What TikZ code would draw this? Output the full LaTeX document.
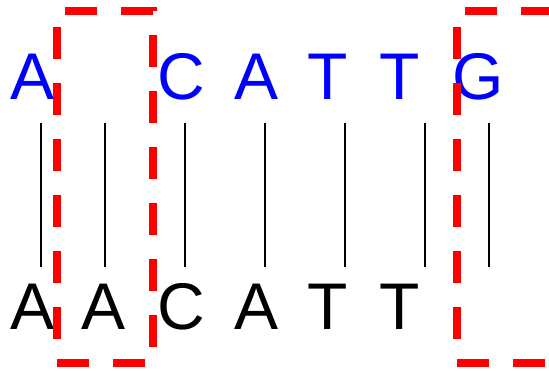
\documentclass[tikz,border=0pt]{standalone}
\usepackage{fontspec}
\setmainfont{Liberation Sans}
\begin{document}
\begin{tikzpicture}[x=1pt,y=1pt,
  base/.style={anchor=base,inner sep=0pt,font=\fontsize{66}{70}\selectfont},
  upper/.style={base,text={rgb,255:red,0;green,0;blue,255}},
  lower/.style={base,text=black},
  tick/.style={draw=black,line width=1.6pt},
  gapbox/.style={draw={rgb,255:red,255;green,0;blue,0},line width=8pt,dash pattern=on 32pt off 24pt}]
\useasboundingbox (0,0) rectangle (549,371);
% upper sequence
\node[upper] (u1) at (33,271) {A};
\node[upper] (u3) at (181,271) {C};
\node[upper] (u4) at (257,271) {A};
\node[upper] (u5) at (328,271) {T};
\node[upper] (u6) at (400,271) {T};
\node[upper] (u7) at (478,271) {G};
% lower sequence
\node[lower] (l1) at (33,41) {A};
\node[lower] (l2) at (104,41) {A};
\node[lower] (l3) at (181,41) {C};
\node[lower] (l4) at (257,41) {A};
\node[lower] (l5) at (328,41) {T};
\node[lower] (l6) at (400,41) {T};
% alignment ticks
\foreach \i/\x in {1/41,2/105,3/185,4/265,5/345,6/425,7/489}{
  \coordinate (t\i) at (\x,248);
  \coordinate (b\i) at (\x,104);
  \draw[tick] (t\i) -- (b\i);
}
% gap boxes, traced from the lower left corner counter-clockwise
\coordinate (g1a) at (57,8);
\coordinate (g1b) at (153,360);
\coordinate (g2a) at (457,8);
\coordinate (g2b) at (553,360);
\draw[gapbox] (g1a) -- (g1a -| g1b) -- (g1b) -- (g1b -| g1a) -- cycle;
\draw[gapbox] (g2a) -- (g2a -| g2b) -- (g2b) -- (g2b -| g2a) -- cycle;
\end{tikzpicture}
\end{document}
